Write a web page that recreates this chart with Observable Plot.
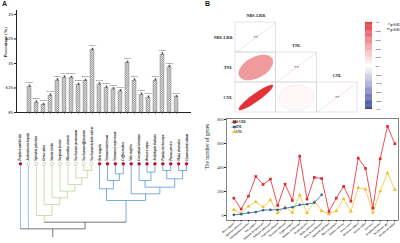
<!DOCTYPE html>
<html><head><meta charset="utf-8">
<script src="https://cdn.jsdelivr.net/npm/d3@7"></script>
<script src="https://cdn.jsdelivr.net/npm/@observablehq/plot@0.6"></script>
<style>
html,body{margin:0;padding:0;background:#fff;}
#fig{position:relative;width:400px;height:243px;overflow:hidden;background:#fff;font-family:"Liberation Serif",serif;}
#fig svg{position:absolute;}
.panel{position:absolute;font:bold 7px "Liberation Sans",Arial,sans-serif;color:#222;}
</style></head><body>
<div id="fig">
  <div class="panel" style="left:2px;top:0px;">A</div>
  <div class="panel" style="left:205px;top:0px;">B</div>
</div>
<script>
// ---------- data ----------
const species = ["Porphyra umbilicalis","Amborella trichopoda","Spirodela polyrhiza","Oryza sativa","Setaria viridis","Sorghum bicolor","Miscanthus sinensis","Saccharum spontaneum","Saccharum officinarum","Saccharum hybrid cultivar","Beta vulgaris","Solanum tuberosum","Solanum lycopersicum","Coffea arabica","Vitis vinifera","Gossypium hirsutum","Brassica napus","Arabidopsis thaliana","Populus trichocarpa","Prunus persica","Malus domestica","Linum usitatissimum"];
const percent = [0.52,0.20,0.15,0.34,0.65,0.71,0.70,0.56,0.64,1.27,0.57,0.50,0.47,0.43,1.01,0.65,0.36,0.30,0.65,1.18,0.92,0.31];
const redTips = [0,10,11,12,13,14,15,16,17,18,19,20,21];
const pctTicks = [0,0.5,1,1.5,2];

// tree: t = tip index, h = node height, g = branch group
const tree = {h:19.5,g:"root",c:[{t:0,g:"basal"},{t:1,g:"basal"},{h:17.5,g:"root",c:[
  {h:15.5,g:"green",c:[{t:2},{h:12.2,c:[{t:3},{h:10.2,c:[{t:4},{h:8.2,c:[{t:5},{h:6.2,c:[{t:6},{h:4.2,c:[{t:7},{h:2,c:[{t:8},{t:9}]}]}]}]}]}]}]},
  {h:11,g:"blue",c:[
    {h:7.5,c:[{t:10},{h:5,c:[{t:11},{h:3,c:[{t:12},{t:13}]}]}]},
    {h:9,c:[{t:14},{h:7,c:[{h:5,c:[{t:15},{h:2.5,c:[{t:16},{t:17}]}]},{h:4.5,c:[{h:2,c:[{t:18},{t:19}]},{h:2,c:[{t:20},{t:21}]}]}]}]}
  ]}
]}]};
const groupColors = {basal:"#7db8e4", green:"#bfd49c", blue:"#5a98d3", root:"#555555"};

const corrVars = ["NBS-LRR","TNL","CNL"];
const corrValues = [[1,0.45,0.92],[0.45,1,0.03],[0.92,0.03,1]];
const colorbarTicks = [1,0.8,0.6,0.4,0.2,0,-0.2,-0.4,-0.6,-0.8,-1];
const pLegend = ["* p<0.05","** p<0.01"];

const lineSpecies = ["Beta vulgaris","Spinacia oleracea","Chenopodium quinoa","Vitis vinifera","Solanum lycopersicum","Solanum tuberosum","Capsicum annuum","Nicotiana tabacum","Coffea arabica","Populus trichocarpa","Prunus persica","Malus domestica","Pyrus bretschneideri","Spirodela polyrhiza","Musa acuminata","Ananas comosus","Oryza sativa","Hordeum vulgare","Setaria italica","Zea mays","Sorghum bicolor","Saccharum spp.","Saccharum hybrid"];
const nbsLrr = [144,53,161,325,258,303,83,261,125,494,136,317,308,33,144,242,119,478,392,61,472,742,597];
const tnl = [5,11,22,28,44,47,47,61,69,89,94,106,172];
const cnl = [47,14,75,114,69,131,22,69,25,169,22,117,39,11,39,139,33,233,217,25,203,353,214];
const geneTicks = [0,200,400,600,800];
const seriesNames = ["NBS-LRR","TNL","CNL"];
const seriesColors = ["#e4262f","#2e5f9e","#f2c12e"];

const fig = document.getElementById("fig");
function place(svg, left, top){ svg.style.left = left+"px"; svg.style.top = top+"px"; fig.appendChild(svg); return svg; }
const baseStyle = {background:"transparent", overflow:"visible", fontFamily:"Liberation Serif", color:"#222"};

// ---------- Panel A: bars ----------
const barData = species.map((s,i)=>({s, v:percent[i]}));
const bar = Plot.plot({
  width:200, height:118, marginLeft:16, marginRight:10, marginTop:10, marginBottom:6,
  style:{...baseStyle, fontSize:"3.4px", fontWeight:"bold"},
  x:{type:"band", domain:species, paddingInner:0.4, paddingOuter:0.2, tickFormat:()=>"", tickSize:1.5, line:true, label:null},
  y:{domain:[0,2.08], ticks:pctTicks, tickFormat:d=>d+"%", tickSize:2, tickPadding:1, line:true, label:null},
  marks:[
    Plot.barY(barData,{x:"s", y:"v", fill:"url(#hatch)", stroke:"#707070", strokeWidth:0.4}),
    Plot.dot(barData,{x:"s", y:"v", dy:-1.3, symbol:"asterisk", r:1.1, stroke:"#222", strokeWidth:0.5}),
    Plot.text(barData,{x:"s", y:"v", dy:-4.6, text:d=>d.v.toFixed(2)+"%", fontSize:2.7, fontWeight:"bold"}),
    Plot.text(["Percentage (%)"],{frameAnchor:"left", text:d=>d, dx:-11, dy:-4, rotate:-90, fontSize:4.6, fontWeight:"bold"})
  ]
});
d3.select(bar).insert("defs",":first-child").html('<pattern id="hatch" width="1.5" height="1.5" patternUnits="userSpaceOnUse" patternTransform="rotate(45)"><rect width="1.5" height="1.5" fill="#e2e2e2"/><line x1="0.4" y1="0" x2="0.4" y2="1.5" stroke="#8c8c8c" stroke-width="0.6"/></pattern>');
place(bar,0,0);

// ---------- Panel A: tree ----------
const edges = [];
function layout(node, g){
  node.g = node.g || g;
  if (node.t !== undefined){ node.x = node.t + 0.5; node.h = 0; return node; }
  node.c.forEach(ch => layout(ch, node.g));
  node.x = (node.c[0].x + node.c[node.c.length-1].x)/2;
  node.c.forEach(ch => edges.push({x1:ch.x, y1:ch.h, x2:ch.x, y2:node.h, g:ch.g}));
  edges.push({x1:node.c[0].x, y1:node.h, x2:node.c[node.c.length-1].x, y2:node.h, g:node.g});
  return node;
}
layout(tree,"root");
edges.push({x1:tree.x, y1:tree.h, x2:tree.x, y2:22, g:"root"});
const tips = species.map((s,i)=>({s, x:i+0.5, red:redTips.includes(i)}));
const treePlot = Plot.plot({
  width:200, height:131, marginLeft:16, marginRight:10, marginTop:0, marginBottom:0,
  style:baseStyle,
  x:{domain:[0,22], axis:null},
  y:{domain:[0,22], range:[51.3,124.7], axis:null},
  color:{type:"identity"},
  marks:[
    Plot.link(edges,{x1:"x1", y1:"y1", x2:"x2", y2:"y2", stroke:d=>groupColors[d.g], strokeWidth:0.8}),
    Plot.dot(tips,{x:"x", y:0, r:1.5, fill:d=>d.red?"#c0142b":"#ffffff", stroke:d=>d.red?"#8a0d1e":"#9a9a9a", strokeWidth:0.4}),
    Plot.text(tips,{x:"x", y:0, dy:-3, text:"s", rotate:-90, textAnchor:"start", fontSize:3.1, fontStyle:"italic", fontWeight:"bold"})
  ]
});
place(treePlot,0,112);

// ---------- Panel B: correlation matrix ----------
const corrColor = d3.scaleLinear().domain([-1,0,1]).range(["#1f2f8f","#ffffff","#e01f26"]);
const cells = [];
corrVars.forEach((rv,r)=>corrVars.forEach((cv,c)=>{ if (c<=r) cells.push({r,c,v:corrValues[r][c]}); }));
const diag = cells.filter(d=>d.r===d.c);
const offd = cells.filter(d=>d.r!==d.c);
const ellPts = [];
offd.forEach((d,k)=>{
  const s = 0.85, a = 0.5*s*Math.sqrt(1+d.v), b = 0.5*s*Math.sqrt(1-d.v);
  for (let deg=0; deg<360; deg+=6){
    const t = deg*Math.PI/180, u = a*Math.cos(t), w = b*Math.sin(t);
    ellPts.push({id:k, v:d.v, x:d.c+0.5+(u+w)/Math.SQRT2, y:d.r+0.5+(-u+w)/Math.SQRT2});
  }
});
const corr = Plot.plot({
  width:200, height:115, marginLeft:35, marginRight:43, marginTop:22, marginBottom:3,
  style:baseStyle,
  x:{domain:[0,3], axis:null},
  y:{domain:[0,3], range:[22,112], axis:null},
  color:{type:"identity"},
  marks:[
    Plot.rect(cells,{x1:"c", x2:d=>d.c+1, y1:"r", y2:d=>d.r+1, fill:"none", stroke:"#c9c9c9", strokeWidth:0.5}),
    Plot.link(diag,{x1:"c", y1:d=>d.r+1, x2:d=>d.c+1, y2:"r", stroke:"#f0c4c4", strokeWidth:0.5}),
    Plot.text(diag,{x:d=>d.c+0.5, y:d=>d.r+0.5, text:()=>"**", fontSize:4.5}),
    Plot.line(ellPts,{x:"x", y:"y", z:"id", curve:"linear-closed", fill:d=>corrColor(d.v), stroke:"#d6d6d6", strokeWidth:0.3}),
    Plot.text(corrVars,{x:0, y:(d,i)=>i+0.5, dx:-3, text:d=>d, textAnchor:"end", fontSize:4.3, fontWeight:"bold"}),
    Plot.text(corrVars,{x:(d,i)=>i+0.5, y:(d,i)=>i, dy:-6.5, text:d=>d, fontSize:4.3, fontWeight:"bold"})
  ]
});
place(corr,200,0);

// colorbar
const barSteps = d3.range(-1,1,0.02).map(v=>({v}));
const cbar = Plot.plot({
  width:200, height:115, marginLeft:165, marginRight:28, marginTop:22, marginBottom:6,
  style:baseStyle,
  x:{domain:[0,1], axis:null},
  y:{domain:[-1,1], axis:null},
  color:{type:"identity"},
  marks:[
    Plot.rect(barSteps,{x1:0, x2:1, y1:"v", y2:d=>d.v+0.021, fill:d=>corrColor(d.v+0.01)}),
    Plot.text(colorbarTicks,{x:1, y:d=>d, dx:3, text:d=>(Math.abs(d)===1||d===0)?d.toFixed(1):d.toFixed(2), textAnchor:"start", fontSize:2.8, fontWeight:"bold"}),
    Plot.text([pLegend[0]],{frameAnchor:"top-right", text:d=>d, dx:27, dy:1, textAnchor:"end", fontSize:3.1, fontWeight:"bold"}),
    Plot.text([pLegend[1]],{frameAnchor:"top-right", text:d=>d, dx:27, dy:6.5, textAnchor:"end", fontSize:3.1, fontWeight:"bold"})
  ]
});
place(cbar,200,0);

// ---------- Panel B: line chart ----------
const toPts = (arr,name)=>arr.map((v,i)=>({i:i+1, v, name}));
const pN = toPts(nbsLrr,"NBS-LRR"), pT = toPts(tnl,"TNL"), pC = toPts(cnl,"CNL");
const line = Plot.plot({
  width:200, height:131, marginLeft:26, marginRight:2, marginTop:6, marginBottom:23,
  style:baseStyle,
  x:{domain:[0,23.5], axis:null},
  y:{domain:[-42,808], axis:null},
  marks:[
    Plot.frame({stroke:"#333", strokeWidth:0.6}),
    Plot.axisY({ticks:geneTicks, tickSize:2, tickPadding:1, fontSize:4.2, label:null}),
    Plot.axisX({ticks:d3.range(1,24), tickFormat:d=>lineSpecies[d-1], tickRotate:-40, tickSize:1.5, tickPadding:1, fontSize:2.7, fontWeight:"bold", fontStyle:"italic", label:null}),
    Plot.text(["The number of genes"],{frameAnchor:"left", text:d=>d, dx:-19, rotate:-90, fontSize:5.4}),
    Plot.line(pC,{x:"i", y:"v", stroke:seriesColors[2], strokeWidth:0.8}),
    Plot.dot(pC,{x:"i", y:"v", symbol:"triangle", r:1.5, fill:seriesColors[2]}),
    Plot.line(pN,{x:"i", y:"v", stroke:seriesColors[0], strokeWidth:0.8}),
    Plot.dot(pN,{x:"i", y:"v", symbol:"square", r:1.5, fill:seriesColors[0]}),
    Plot.line(pT,{x:"i", y:"v", stroke:seriesColors[1], strokeWidth:0.8}),
    Plot.dot(pT,{x:"i", y:"v", symbol:"circle", r:1.3, fill:seriesColors[1]})
  ]
});
// legend
const lg = d3.select(line).append("g").attr("font-size",3).attr("font-weight","bold").attr("font-family","Liberation Serif");
const syms = [d3.symbolSquare, d3.symbolCircle, d3.symbolTriangle];
seriesNames.forEach((n,k)=>{
  const yy = 10.3 + k*4.8;
  lg.append("line").attr("x1",31.5).attr("x2",37.5).attr("y1",yy).attr("y2",yy).attr("stroke",seriesColors[k]).attr("stroke-width",0.8);
  lg.append("path").attr("d",d3.symbol(syms[k], 7)()).attr("transform",`translate(34.5,${yy})`).attr("fill",seriesColors[k]);
  lg.append("text").attr("x",39).attr("y",yy).attr("dy","0.35em").text(n);
});
place(line,200,112);
</script>
</body></html>
